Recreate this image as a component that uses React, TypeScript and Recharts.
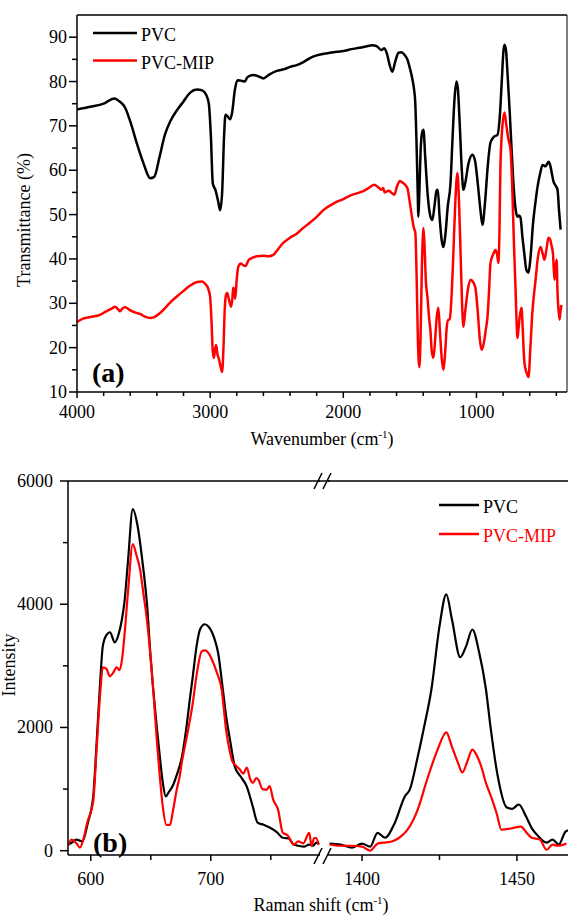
import React from "react";
import { LineChart, Line, XAxis, YAxis, ReferenceLine, Legend } from "recharts";

const FONT = "'Liberation Serif', 'Times New Roman', serif";

// ---------- (a) FTIR ----------
const pvcWavenumber = [
  4000, 3900, 3800, 3720, 3680, 3640, 3600, 3550, 3500, 3450, 3420, 3380, 3340, 3300, 3250, 3200, 3150, 3100,
  3060, 3030, 3010, 2995, 2980, 2960, 2940, 2925, 2910, 2895, 2885, 2870, 2850, 2835, 2815, 2795, 2770, 2740,
  2720, 2680, 2640, 2600, 2560, 2500, 2444, 2400, 2350, 2293, 2250, 2200, 2120, 2050, 1980, 1940, 1880, 1830,
  1782, 1750, 1714, 1692, 1670, 1650, 1632, 1610, 1585, 1564, 1540, 1519, 1500, 1481, 1470, 1460, 1450, 1442,
  1436, 1430, 1420, 1408, 1398, 1385, 1365, 1345, 1331, 1315, 1300, 1290, 1278, 1260, 1248, 1235, 1215, 1195,
  1180, 1165, 1150, 1140, 1125, 1110, 1098, 1085, 1060, 1030, 1010, 990, 970, 955, 935, 915, 895, 870, 842,
  825, 810, 797, 789, 778, 765, 750, 735, 720, 705, 692, 680, 669, 655, 640, 625, 609, 595, 575, 556, 541,
  520, 504, 481, 459, 445, 432, 421, 405, 391, 380, 368,
];
const pvcTransmittance = [
  73.7, 74.3, 75.0, 76.2, 75.5, 74.2, 71, 66, 61.5, 58.2, 58.5, 63, 68, 71, 73.5, 75.5, 77.5, 78.2,
  78, 77, 75, 68, 57, 55.5, 53, 51, 55, 68, 72.5, 72.2, 71.5, 73, 78, 80.3, 80.2, 80,
  81, 81.5, 81.2, 80.7, 81.5, 82.4, 82.8, 83.3, 83.7, 84.5, 85.3, 85.9, 86.4, 86.7, 87, 87.3, 87.6, 87.9,
  88.2, 88.0, 87.1, 87.5, 86, 83.5, 82.2, 84.5, 86.5, 86.6, 86, 85, 83, 80.5, 78.5, 75.5, 66, 56,
  49.5, 54, 64, 68.5, 69.1, 63, 54, 49.5, 48.8, 52, 55.4, 55.6, 50, 44, 42.7, 45, 52, 57,
  67, 76, 80, 78.5, 70, 60, 55.6, 57, 61.5, 63.5, 62, 57, 51, 47.7, 53, 61, 66.2, 67.5, 68,
  72, 80, 87, 88.3, 87, 81, 73, 64, 56, 51, 49.5, 49.8, 49.3, 45, 41, 37.5, 36.9, 40, 48, 53, 56.3,
  59.5, 61.2, 60.9, 61.9, 61, 59, 57.4, 56.5, 55.6, 51, 46.6,
];
const mipWavenumber = [
  4000, 3950, 3900, 3827, 3780, 3740, 3714, 3690, 3677, 3660, 3639, 3600, 3560, 3526, 3490, 3451, 3420, 3376,
  3330, 3290, 3248, 3200, 3150, 3098, 3060, 3038, 3015, 3000, 2990, 2980, 2972, 2962, 2955, 2945, 2935, 2920,
  2910, 2900, 2890, 2880, 2872, 2860, 2842, 2832, 2827, 2818, 2812, 2800, 2789, 2770, 2752, 2735, 2710, 2680,
  2647, 2600, 2560, 2526, 2490, 2451, 2400, 2350, 2316, 2250, 2200, 2150, 2068, 2000, 1940, 1865, 1820, 1767,
  1740, 1714, 1700, 1690, 1660, 1640, 1617, 1595, 1575, 1564, 1545, 1519, 1496, 1470, 1459, 1450, 1440, 1429,
  1420, 1410, 1398, 1390, 1380, 1368, 1355, 1346, 1335, 1323, 1310, 1298, 1286, 1275, 1262, 1248, 1235, 1222,
  1211, 1200, 1190, 1175, 1160, 1143, 1130, 1118, 1108, 1098, 1085, 1065, 1045, 1025, 1008, 990, 975, 962,
  945, 930, 917, 905, 895, 875, 857, 845, 835, 828, 820, 805, 789, 775, 760, 744, 730, 718, 707, 700, 692,
  685, 675, 662, 652, 645, 639, 625, 609, 595, 580, 568, 556, 540, 519, 505, 489, 475, 459, 448, 436, 425,
  414, 406, 398, 391, 385, 376, 368, 361,
];
const mipTransmittance = [
  25.8, 26.6, 26.9, 27.4, 28.2, 28.8, 29.2, 28.6, 28.2, 28.8, 29.1, 28.4, 27.9, 27.6, 27.0, 26.7, 26.9, 27.8,
  29.2, 30.5, 31.6, 32.8, 34.0, 34.8, 34.9, 34.4, 33.3, 31.4, 26, 19, 17.7, 19.8, 20.6, 18.5, 17.5, 15.5,
  14.5, 20, 29, 32, 32.3, 31, 29.2, 31.5, 33.5, 33, 31, 35.5, 38.2, 39, 38.6, 38.4, 39.8, 40.3,
  40.6, 40.7, 40.6, 40.9, 42.2, 43.6, 44.8, 45.7, 46.6, 48.2, 49.5, 51, 52.6, 53.5, 54.4, 55.1, 55.8, 56.7,
  56.2, 55.6, 56, 55, 55.4, 55, 54.5, 56.5, 57.6, 57.4, 57, 56, 51.8, 47, 45.9, 37, 22, 15.6,
  22, 38, 47, 43, 35, 31.4, 26.5, 24, 19, 17.7, 22, 27, 29, 24, 18, 15, 19, 25,
  26.3, 26.4, 30, 40, 52, 59.4, 52, 40, 30, 24.7, 28, 33, 35.3, 34.8, 33.5, 28, 22, 19.5,
  21, 24, 27, 33, 39, 41, 42, 41, 39.1, 45, 60.8, 70, 73, 70, 67, 64.6, 55, 43, 33.7, 27, 22.2,
  24, 27, 29, 24, 19, 16.5, 14.5, 13.4, 20, 28, 32, 35.3, 40, 42.7, 41.5, 39.8, 42, 44.8, 44.5, 43, 41,
  35.3, 38, 39.8, 32.3, 29, 26.3, 28.5, 29.6,
];

const ftirTicksX = [400, 600, 800, 1000, 1200, 1400, 1600, 1800, 2000, 2200, 2400, 2600, 2800, 3000, 3200, 3400, 3600, 3800, 4000];
const ftirLabelsX = [1000, 2000, 3000, 4000];
const ftirTicksY = [10, 15, 20, 25, 30, 35, 40, 45, 50, 55, 60, 65, 70, 75, 80, 85, 90];
const ftirLabelsY = [10, 20, 30, 40, 50, 60, 70, 80, 90];

// ---------- (b) Raman ----------
const lowPvcShift = [
  581, 584, 588, 593, 597.5, 602, 605, 608, 610, 613, 616, 620, 623, 626, 628, 631, 635, 639, 643, 646.7, 650,
  652, 655, 657.5, 660, 662.5, 665, 668, 672, 676, 680, 682.5, 685, 688, 691, 695, 698, 701, 704, 706, 710, 713,
  716, 720, 725, 730, 735, 739, 744, 749, 755, 760, 765, 769, 773, 777.5, 782, 785, 788, 790,
];
const lowPvcIntensity = [
  100, 130, 180, 150, 450, 880, 1800, 2800, 3320, 3500, 3545, 3380, 3500, 3760, 4030, 4700, 5545, 5270, 4700, 4030, 3100,
  2620, 2000, 1530, 1100, 880, 950, 1040, 1250, 1530, 2050, 2455, 2830, 3300, 3590, 3675, 3640, 3545, 3380, 3220, 2620, 2150,
  1800, 1365, 1200, 1040, 715, 455, 420, 375, 300, 210, 200, 100, 80, 65, 100, 80, 130, 100,
];
const lowMipShift = [
  581, 584, 588, 591, 594, 597, 602, 605, 608, 610, 613, 616, 619, 621.5, 624, 626, 628, 631, 635, 638, 641, 644,
  646.7, 650, 652, 655, 657.5, 660, 663, 666, 668.5, 671.6, 674, 676, 680, 685, 688, 692.5, 695, 697.5, 701, 705,
  709, 713, 716, 718, 721, 724, 727, 730, 733, 735, 738, 740, 743, 746.7, 749, 752, 756, 760, 764, 769, 773, 777,
  782, 784, 786, 787.5, 790,
];
const lowMipIntensity = [
  80, 180, 120, 50, 200, 455, 800, 1700, 2600, 2975, 2950, 2830, 2900, 2975, 2930, 3100, 3480, 4200, 4975, 4800, 4570, 4150,
  3760, 3100, 2620, 1800, 1200, 715, 420, 420, 650, 990, 1200, 1450, 1850, 2400, 2830, 3235, 3250, 3220, 3100, 2895,
  2620, 1920, 1600, 1450, 1380, 1320, 1250, 1350, 1150, 1100, 1180, 1140, 1000, 990, 1050, 830, 670, 290, 250, 100, 150, 120,
  290, 80, 200, 210, 100,
];
const highPvcShift = [
  1389.5, 1393, 1396.8, 1400, 1402.6, 1405, 1407.4, 1410.6, 1413.8, 1415.4, 1418, 1420, 1422.4, 1425, 1427.2, 1429,
  1431.7, 1433.6, 1435.6, 1437.8, 1440, 1441.5, 1443.6, 1446.8, 1448.5, 1450.6, 1453, 1455, 1457, 1459.6, 1461.5,
  1463.5, 1465.7, 1466.5,
];
const highPvcIntensity = [
  115, 100, 50, 115, 65, 290, 210, 455, 880, 990, 1530, 2000, 2620, 3640, 4160, 3760,
  3140, 3320, 3590, 3220, 2620, 2000, 1270, 700, 680, 750, 550, 350, 230, 130, 180,
  100, 310, 330,
];
const highMipShift = [
  1389.5, 1393, 1396.8, 1400, 1402.6, 1405, 1407, 1409.6, 1412, 1414.7, 1418, 1421, 1424.4, 1427.2, 1429, 1430.8,
  1432.4, 1434, 1435.6, 1437, 1438.5, 1440, 1442, 1443.5, 1445, 1448, 1451.3, 1453, 1454.8, 1457.4, 1459.6, 1461.5,
  1463, 1466,
];
const highMipIntensity = [
  100, 80, 80, 65, 0, 115, 130, 150, 210, 340, 670, 1155, 1640, 1920, 1690, 1450,
  1270, 1450, 1640, 1550, 1365, 1100, 830, 600, 340, 360, 390, 300, 210, 180, 15, 100,
  80, 115,
];

const ramanTicksY = [0, 1000, 2000, 3000, 4000, 5000, 6000];
const ramanLabelsY = [0, 2000, 4000, 6000];
const lowTicksX = [600, 650, 700, 750];
const lowLabelsX = [600, 700];
const highTicksX = [1400, 1425, 1450];
const highLabelsX = [1400, 1450];

const zip = (xs: number[], ys: number[]) => xs.map((x, i) => ({ x, y: ys[i] }));

const xTick = (labels: number[], major: number, minor: number, base: number) => (props: any) => {
  const { x, y, payload } = props;
  const isMajor = labels.includes(payload.value);
  return (
    <g>
      <line x1={x} x2={x} y1={y} y2={y + (isMajor ? major : minor)} stroke="#000" strokeWidth={1.5} />
      {isMajor && (
        <text x={x} y={y + base} textAnchor="middle" fontSize={18} fontFamily={FONT} fill="#000">
          {payload.value}
        </text>
      )}
    </g>
  );
};

const yTick = (labels: number[], major: number, minor: number, gap: number) => (props: any) => {
  const { x, y, payload } = props;
  const isMajor = labels.includes(payload.value);
  return (
    <g>
      <line x1={x} x2={x - (isMajor ? major : minor)} y1={y} y2={y} stroke="#000" strokeWidth={1.5} />
      {isMajor && (
        <text x={x - gap} y={y + 6} textAnchor="end" fontSize={18} fontFamily={FONT} fill="#000">
          {payload.value}
        </text>
      )}
    </g>
  );
};

function SpectraLegend({ payload, lineLen, gap, colorText }: any) {
  return (
    <svg width={lineLen + 90} height={gap + 24} style={{ overflow: "visible" }}>
      {(payload || []).map((p: any, i: number) => {
        const cy = 10 + i * gap;
        return (
          <g key={p.value}>
            <line x1={0} x2={lineLen} y1={cy} y2={cy} stroke={p.color} strokeWidth={2.5} />
            <text x={lineLen + 4} y={cy + 8} fontSize={18} fontFamily={FONT} fill={colorText ? p.color : "#000"}>
              {p.value}
            </text>
          </g>
        );
      })}
    </svg>
  );
}

const axisStyle = { stroke: "#000", strokeWidth: 1.5 };

export default function App() {
  const pvcFtir = zip(pvcWavenumber, pvcTransmittance);
  const mipFtir = zip(mipWavenumber, mipTransmittance);
  const lowPvc = zip(lowPvcShift, lowPvcIntensity);
  const lowMip = zip(lowMipShift, lowMipIntensity);
  const highPvc = zip(highPvcShift, highPvcIntensity);
  const highMip = zip(highMipShift, highMipIntensity);

  return (
    <div style={{ position: "absolute", left: 0, top: 0, width: 568, height: 917, overflow: "hidden", background: "#fff", fontFamily: FONT }}>
      {/* (a) FTIR */}
      <div style={{ position: "absolute", left: 0, top: 0 }}>
        <LineChart width={568} height={460} margin={{ top: 15, right: 1, bottom: 38, left: 0 }}>
          <XAxis
            type="number"
            dataKey="x"
            reversed
            domain={[320, 4000]}
            ticks={ftirTicksX}
            interval={0}
            height={30}
            tickSize={0}
            tickMargin={0}
            tickLine={false}
            axisLine={axisStyle}
            tick={xTick(ftirLabelsX, 6, 4, 26)}
            allowDataOverflow
          />
          <YAxis
            type="number"
            domain={[10, 95]}
            ticks={ftirTicksY}
            interval={0}
            width={77}
            tickSize={0}
            tickMargin={0}
            tickLine={false}
            axisLine={axisStyle}
            tick={yTick(ftirLabelsY, 8, 5, 10)}
            allowDataOverflow
          />
          <ReferenceLine y={95} stroke="#000" strokeWidth={1.5} />
          <ReferenceLine x={320} stroke="#000" strokeWidth={1} />
          <Line data={pvcFtir} dataKey="y" name="PVC" type="monotone" stroke="#000" strokeWidth={2.5} dot={false} isAnimationActive={false} />
          <Line data={mipFtir} dataKey="y" name="PVC-MIP" type="monotone" stroke="#ff0000" strokeWidth={2.5} dot={false} isAnimationActive={false} />
          <Legend
            layout="vertical"
            align="center"
            verticalAlign="middle"
            wrapperStyle={{ left: 93, top: 22.5, width: "auto" }}
            content={(props: any) => <SpectraLegend {...props} lineLen={44} gap={27.5} colorText={false} />}
          />
        </LineChart>
      </div>

      {/* (b) Raman, low-shift segment */}
      <div style={{ position: "absolute", left: 0, top: 460 }}>
        <LineChart width={320} height={457} margin={{ top: 21, right: 0, bottom: 32, left: 0 }}>
          <XAxis
            type="number"
            dataKey="x"
            domain={[581, 791]}
            ticks={lowTicksX}
            interval={0}
            height={30}
            tickSize={0}
            tickMargin={0}
            tickLine={false}
            axisLine={axisStyle}
            tick={xTick(lowLabelsX, 6, 5, 30)}
            allowDataOverflow
          />
          <YAxis
            type="number"
            domain={[-70, 6000]}
            ticks={ramanTicksY}
            interval={0}
            width={68}
            tickSize={0}
            tickMargin={0}
            tickLine={false}
            axisLine={axisStyle}
            tick={yTick(ramanLabelsY, 8, 5, 15)}
            allowDataOverflow
          />
          <ReferenceLine y={6000} stroke="#000" strokeWidth={1.5} />
          <Line data={lowPvc} dataKey="y" name="PVC" type="monotone" stroke="#000" strokeWidth={2.2} dot={false} isAnimationActive={false} />
          <Line data={lowMip} dataKey="y" name="PVC-MIP" type="monotone" stroke="#ff0000" strokeWidth={2.2} dot={false} isAnimationActive={false} />
        </LineChart>
      </div>

      {/* (b) Raman, high-shift segment */}
      <div style={{ position: "absolute", left: 328, top: 460 }}>
        <LineChart width={240} height={457} margin={{ top: 21, right: 0, bottom: 32, left: 0 }}>
          <XAxis
            type="number"
            dataKey="x"
            domain={[1389, 1466.5]}
            ticks={highTicksX}
            interval={0}
            height={30}
            tickSize={0}
            tickMargin={0}
            tickLine={false}
            axisLine={axisStyle}
            tick={xTick(highLabelsX, 6, 5, 30)}
            allowDataOverflow
          />
          <YAxis hide type="number" domain={[-70, 6000]} allowDataOverflow />
          <ReferenceLine y={6000} stroke="#000" strokeWidth={1.5} />
          <Line data={highPvc} dataKey="y" name="PVC" type="monotone" stroke="#000" strokeWidth={2.2} dot={false} isAnimationActive={false} />
          <Line data={highMip} dataKey="y" name="PVC-MIP" type="monotone" stroke="#ff0000" strokeWidth={2.2} dot={false} isAnimationActive={false} />
          <Legend
            layout="vertical"
            align="center"
            verticalAlign="middle"
            wrapperStyle={{ left: 111, top: 35, width: "auto" }}
            content={(props: any) => <SpectraLegend {...props} lineLen={40} gap={29} colorText />}
          />
        </LineChart>
      </div>

      {/* titles, panel tags, axis break */}
      <svg width={568} height={917} style={{ position: "absolute", left: 0, top: 0, pointerEvents: "none" }}>
        <text x={30} y={220} transform="rotate(-90 30 220)" textAnchor="middle" fontSize={18} fontFamily={FONT} fill="#000">
          Transmittance (%)
        </text>
        <text x={322} y={445} textAnchor="middle" fontSize={18} fontFamily={FONT} fill="#000">
          Wavenumber (cm<tspan dy={-7} fontSize={11}>-1</tspan>
          <tspan dy={7}>)</tspan>
        </text>
        <text x={92} y={382} fontSize={28} fontWeight="bold" fontFamily={FONT} fill="#000">(a)</text>

        <text x={15} y={665} transform="rotate(-90 15 665)" textAnchor="middle" fontSize={18} fontFamily={FONT} fill="#000">
          Intensity
        </text>
        <text x={321} y={911} textAnchor="middle" fontSize={18} fontFamily={FONT} fill="#000">
          Raman shift (cm<tspan dy={-7} fontSize={11}>-1</tspan>
          <tspan dy={7}>)</tspan>
        </text>
        <text x={93} y={852} fontSize={28} fontWeight="bold" fontFamily={FONT} fill="#000">(b)</text>

        <line x1={318} x2={330} y1={481} y2={481} stroke="#000" strokeWidth={1.5} />
        {[318, 327].map((cx) => (
          <g key={cx}>
            <line x1={cx - 4} x2={cx + 4} y1={489} y2={473} stroke="#000" strokeWidth={1.5} />
            <line x1={cx - 4} x2={cx + 4} y1={864} y2={848} stroke="#000" strokeWidth={1.5} />
          </g>
        ))}
      </svg>
    </div>
  );
}
